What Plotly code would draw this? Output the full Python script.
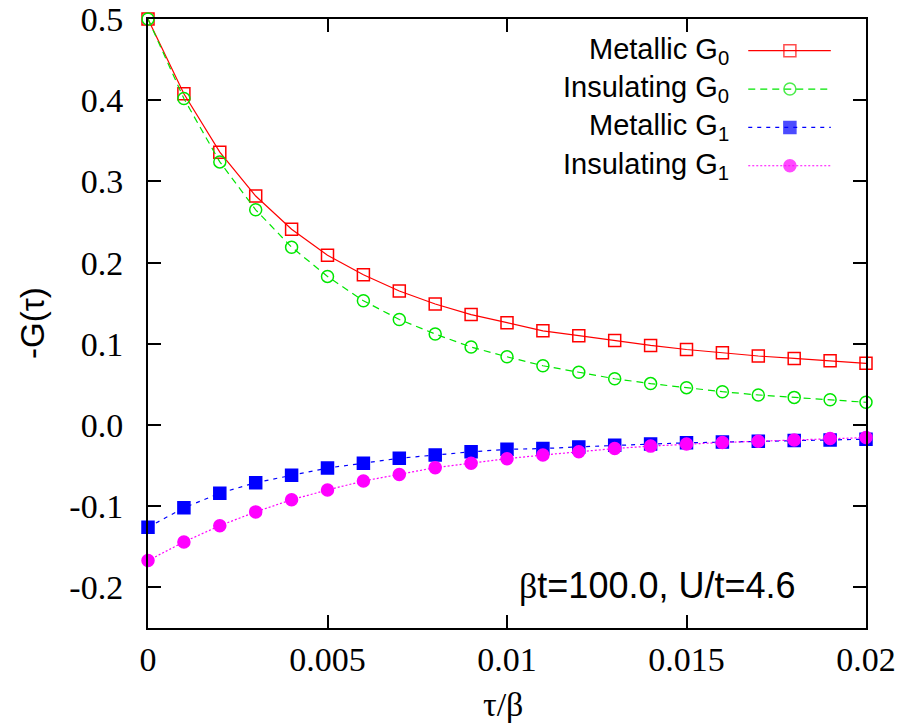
import plotly.graph_objects as go

tau = [i * 0.001 for i in range(21)]

metallic_g0 = [0.500, 0.408, 0.336, 0.282, 0.241, 0.209, 0.185, 0.165, 0.149, 0.136, 0.126,
               0.116, 0.110, 0.104, 0.098, 0.093, 0.089, 0.085, 0.082, 0.079, 0.076]
insulating_g0 = [0.500, 0.402, 0.324, 0.265, 0.219, 0.183, 0.153, 0.130, 0.112, 0.096, 0.084,
                 0.073, 0.065, 0.057, 0.051, 0.046, 0.041, 0.037, 0.034, 0.031, 0.028]
metallic_g1 = [-0.126, -0.102, -0.084, -0.071, -0.062, -0.053, -0.047, -0.041, -0.037, -0.033, -0.030,
               -0.029, -0.027, -0.025, -0.0235, -0.022, -0.021, -0.020, -0.019, -0.0185, -0.0175]
insulating_g1 = [-0.167, -0.144, -0.124, -0.107, -0.092, -0.080, -0.069, -0.061, -0.0525, -0.047, -0.0415,
                 -0.037, -0.033, -0.029, -0.026, -0.0235, -0.0215, -0.020, -0.0185, -0.0165, -0.0155]

x_ticks = [0, 0.005, 0.01, 0.015, 0.02]
x_ticktext = ["0", "0.005", "0.01", "0.015", "0.02"]
y_ticks = [-0.2, -0.1, 0.0, 0.1, 0.2, 0.3, 0.4, 0.5]
y_ticktext = ["-0.2", "-0.1", "0.0", "0.1", "0.2", "0.3", "0.4", "0.5"]

SERIF = "Liberation Serif, Times New Roman, Times, serif"
SANS = "Liberation Sans, Arial, Helvetica, sans-serif"

series = [
    ("Metallic G<sub>0</sub>", metallic_g0, "#ff0000", "solid", "square-open"),
    ("Insulating G<sub>0</sub>", insulating_g0, "#00e600", "7px,5px", "circle-open"),
    ("Metallic G<sub>1</sub>", metallic_g1, "#0000ff", "4px,5px", "square"),
    ("Insulating G<sub>1</sub>", insulating_g1, "#ff00ff", "2px,2px", "circle"),
]

fig = go.Figure()
for name, vals, col, dash, sym in series:
    fig.add_trace(go.Scatter(
        x=tau, y=vals, mode="lines+markers", name=name,
        line=dict(color=col, width=1.2, dash=dash),
        marker=dict(symbol=sym, size=12, color=col, line=dict(color=col, width=1.5)),
        showlegend=False, cliponaxis=False,
    ))

# manual legend (text on the left, sample on the right)
leg_y = [0.948, 0.885, 0.822, 0.759]
lx0, lxm, lx1 = 0.836, 0.894, 0.951
for (name, vals, col, dash, sym), yy in zip(series, leg_y):
    fig.add_trace(go.Scatter(
        x=[lx0, lxm, lx1], y=[yy, yy, yy], xaxis="x2", yaxis="y2",
        mode="lines+markers", showlegend=False, hoverinfo="skip",
        line=dict(color=col, width=1.2, dash=dash),
        marker=dict(symbol=sym, size=[0, 12, 0], color=col, line=dict(color=col, width=1.5)),
    ))
    fig.add_annotation(
        x=0.812, y=yy, xref="paper", yref="paper", xanchor="right", yanchor="middle",
        text=name, showarrow=False,
        font=dict(family=SANS, size=29, color="black"),
    )

fig.add_annotation(
    x=0.905, y=0.07, xref="paper", yref="paper", xanchor="right", yanchor="middle",
    text="<span style='font-family:\"Liberation Serif\", serif'>β</span>t=100.0, U/t=4.6",
    showarrow=False, font=dict(family=SANS, size=36, color="black"),
)

# axis titles (positions given in pixels, converted below)
fig.add_annotation(
    x=503, y=704, xref="paper", yref="paper", text="τ/β", showarrow=False,
    font=dict(family=SERIF, size=34, color="black"),
)
fig.add_annotation(
    x=33, y=323, xref="paper", yref="paper", text="-G(τ)", showarrow=False, textangle=-90,
    font=dict(family=SANS, size=33, color="black"),
)

axis_common = dict(
    showline=True, linecolor="black", linewidth=2, mirror="ticks",
    ticks="inside", ticklen=13, tickwidth=2, tickcolor="black",
    showgrid=False, zeroline=False, automargin=False,
    tickfont=dict(family=SERIF, size=34, color="black"),
)

fig.update_layout(
    width=909, height=727,
    margin=dict(l=148, r=43, t=19, b=99),
    paper_bgcolor="white", plot_bgcolor="white",
    xaxis=dict(range=[0, 0.02], tickvals=x_ticks, ticktext=x_ticktext, **axis_common),
    yaxis=dict(range=[-0.25, 0.5], tickvals=y_ticks, ticktext=y_ticktext,
               ticklabelstandoff=16, **axis_common),
    xaxis2=dict(range=[0, 1], overlaying="x", visible=False, fixedrange=True),
    yaxis2=dict(range=[0, 1], overlaying="y", visible=False, fixedrange=True),
)

# convert the two title annotations from pixel to paper coordinates
pw, ph = 909 - 148 - 43, 727 - 19 - 99
for ann in fig.layout.annotations[-2:]:
    ann.x = (ann.x - 148) / pw
    ann.y = (727 - 99 - ann.y) / ph
    ann.xanchor = "center"
    ann.yanchor = "middle"

fig.write_html("out.html")
